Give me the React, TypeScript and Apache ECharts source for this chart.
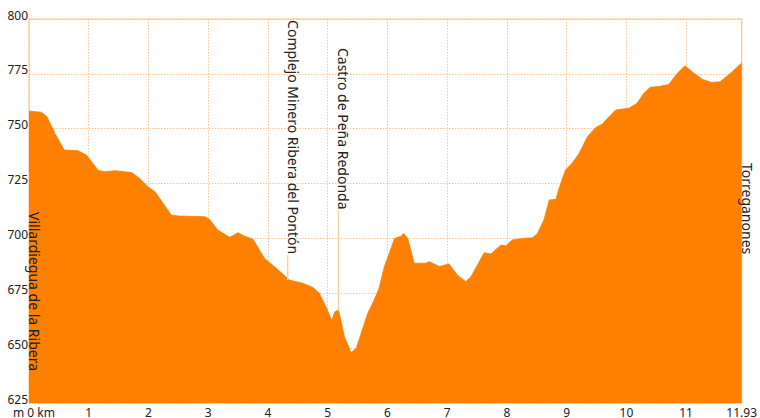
import React, { useEffect, useRef } from "react";
import * as echarts from "echarts";

// Elevation profile (km, m)
const distanceKm = [
  0, 0.21, 0.3, 0.43, 0.59, 0.82, 0.96, 1.16, 1.27, 1.44, 1.72, 1.85, 1.99, 2.11, 2.38, 2.5, 2.94,
  3.02, 3.16, 3.36, 3.5, 3.61, 3.75, 3.94, 4.14, 4.36, 4.58, 4.75, 4.86, 4.97, 5.07, 5.12, 5.18,
  5.22, 5.28, 5.34, 5.39, 5.48, 5.56, 5.67, 5.78, 5.86, 5.95, 6.12, 6.23, 6.27, 6.34, 6.45, 6.64,
  6.7, 6.87, 7.03, 7.17, 7.31, 7.4, 7.62, 7.73, 7.9, 7.98, 8.09, 8.26, 8.43, 8.51, 8.62, 8.71,
  8.82, 8.87, 8.98, 9.09, 9.21, 9.35, 9.49, 9.6, 9.71, 9.82, 10.04, 10.18, 10.29, 10.4, 10.54,
  10.71, 10.85, 10.98, 11.1, 11.27, 11.43, 11.57, 11.74, 11.93,
];
const elevationM = [
  758, 757.5, 755.5, 748, 740.3, 740, 738, 731, 730.4, 730.9, 730, 727.4, 723.6, 721.3, 710.7, 710.2,
  709.9, 708.7, 703.8, 700.5, 702.6, 701, 699.6, 691, 686.4, 681, 679.6, 677.7, 675, 668.9, 662.5,
  666.6, 667.4, 662.8, 655.2, 651.4, 647.9, 650, 656.8, 665.9, 672, 677.3, 687.2, 700, 701, 702.3,
  700, 688.7, 688.7, 689.4, 687.2, 688.4, 683.3, 680.3, 682.6, 693.5, 692.9, 697, 696.6, 699.3, 700,
  700.3, 702.3, 708.4, 717.5, 717.8, 722.5, 731.2, 734.2, 738.8, 746.4, 750.6, 752.2, 755.5, 758.5,
  759.3, 761.6, 766.1, 768.9, 769.2, 770.1, 775.2, 778.7, 776, 772.5, 771.1, 771.4, 775.2, 780,
];

// Waypoints
const waypointNames = [
  "Villardiegua de la Ribera",
  "Complejo Minero Ribera del Pontón",
  "Castro de Peña Redonda",
  "Torreganones",
];
const waypointKm = [0, 4.33, 5.18, 11.93];
const waypointElevation = [758, 681, 667, 780];
const waypointLabelStartElevation = [712, 799.5, 786.8, 734.4];
const waypointHasLine = [false, true, true, false];

// Axes
const xMax = 11.93;
const yMin = 625;
const yMax = 800;

export default function App() {
  const ref = useRef<HTMLDivElement>(null);

  useEffect(() => {
    if (!ref.current) return;
    const chart = echarts.init(ref.current, null, { renderer: "svg" });
    const fontFamily = '"Noto Sans", sans-serif';
    const textColor = "#222";
    const peach = "#f9c697";

    chart.setOption({
      animation: false,
      grid: {
        left: 29,
        top: 19,
        right: 17,
        bottom: 15,
        show: true,
        borderColor: "#fcd2ab",
        borderWidth: 1.5,
      },
      xAxis: {
        type: "value",
        min: 0,
        max: xMax,
        interval: 1,
        axisLine: { show: false },
        axisTick: { show: false },
        splitLine: { show: true, lineStyle: { color: peach, type: [1.5, 1.5], width: 1 } },
        axisLabel: {
          color: textColor,
          fontFamily,
          fontSize: 12,
          lineHeight: 10,
          margin: 4,
          formatter: (v: number) =>
            v === 0 ? "" : Number.isInteger(v) ? String(v) : v.toFixed(2),
        },
      },
      yAxis: {
        type: "value",
        min: yMin,
        max: yMax,
        interval: 25,
        axisLine: { show: false },
        axisTick: { show: false },
        splitLine: { show: true, lineStyle: { color: peach, type: [1.5, 1.5], width: 1 } },
        axisLabel: {
          color: textColor,
          fontFamily,
          fontSize: 12,
          margin: 1,
          verticalAlign: "bottom",
          lineHeight: 8,
        },
      },
      series: [
        {
          type: "line",
          data: distanceKm.map((d, i) => [d, elevationM[i]]),
          showSymbol: false,
          symbol: "none",
          silent: true,
          lineStyle: { width: 0.8, color: "#ff8000" },
          areaStyle: { color: "#ff8000", opacity: 1, origin: "start" },
        },
      ],
    });

    const ctx = document.createElement("canvas").getContext("2d");
    const labelSize = 14;
    const measure = (t: string) => {
      if (!ctx) return t.length * 7;
      ctx.font = `${labelSize}px "Noto Sans"`;
      return ctx.measureText(t).width;
    };

    const graphics: any[] = [];
    waypointNames.forEach((name, i) => {
      const [px, pyTop] = chart.convertToPixel({ gridIndex: 0 }, [
        waypointKm[i],
        waypointLabelStartElevation[i],
      ]) as number[];
      const [, pyProfile] = chart.convertToPixel({ gridIndex: 0 }, [
        waypointKm[i],
        waypointElevation[i],
      ]) as number[];
      const w = measure(name);
      if (waypointHasLine[i]) {
        graphics.push({
          type: "line",
          silent: true,
          shape: { x1: px, y1: pyTop + w + 1, x2: px, y2: pyProfile },
          style: { stroke: "#fbcfa6", lineWidth: 1.5 },
          z: 10,
        });
      }
      graphics.push({
        type: "text",
        x: px - 1.5,
        y: pyTop,
        rotation: -Math.PI / 2,
        silent: true,
        z: 20,
        style: {
          text: name,
          fill: textColor,
          font: `${labelSize}px ${fontFamily}`,
          align: "left",
          verticalAlign: "bottom",
        },
      });
    });

    const [x0, yBottom] = chart.convertToPixel({ gridIndex: 0 }, [0, yMin]) as number[];
    graphics.push({
      type: "text",
      x: x0 - 1,
      y: yBottom + 4,
      silent: true,
      style: {
        text: "m 0 km",
        fill: textColor,
        font: `12px ${fontFamily}`,
        lineHeight: 10,
        align: "left",
        verticalAlign: "top",
      },
      left: 13,
    });

    chart.setOption({ graphic: graphics });

    return () => chart.dispose();
  }, []);

  return (
    <div
      ref={ref}
      style={{ position: "absolute", left: 0, top: 0, width: 760, height: 418 }}
    />
  );
}
